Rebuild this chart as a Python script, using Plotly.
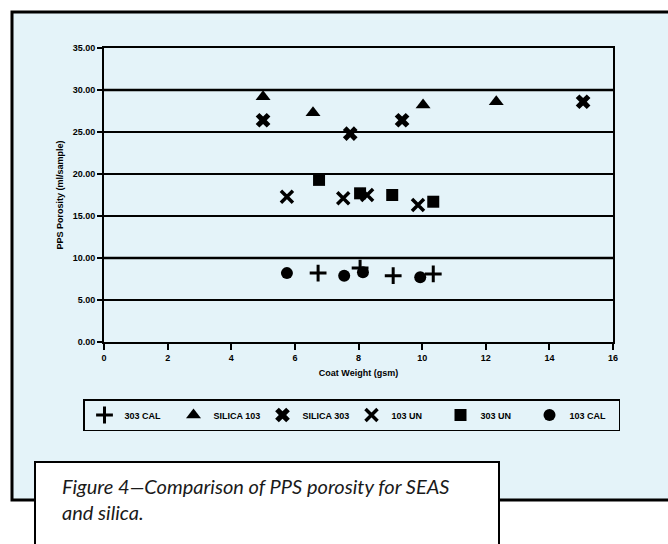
import plotly.graph_objects as go

# ---- data ----
cal303_x = [6.73, 8.05, 9.09, 10.35]
cal303_y = [8.2, 8.8, 7.9, 8.1]

silica103_x = [5.0, 6.57, 10.03, 12.33]
silica103_y = [29.2, 27.3, 28.2, 28.6]

silica303_x = [5.0, 7.74, 9.37, 15.06]
silica303_y = [26.4, 24.8, 26.4, 28.6]

un103_x = [5.75, 7.52, 8.27, 9.87]
un103_y = [17.3, 17.1, 17.5, 16.3]

un303_x = [6.76, 8.05, 9.06, 10.35]
un303_y = [19.3, 17.7, 17.5, 16.7]

cal103_x = [5.75, 7.55, 8.14, 9.94]
cal103_y = [8.2, 7.9, 8.3, 7.7]

series_names = ["303 CAL", "SILICA 103", "SILICA 303", "103 UN", "303 UN", "103 CAL"]
y_ticks = [0, 5, 10, 15, 20, 25, 30, 35]
x_ticks = [0, 2, 4, 6, 8, 10, 12, 14, 16]

caption = "<i>Figure 4\u2014Comparison of PPS porosity for SEAS<br>and silica.</i>"

# ---- geometry helpers (pixel -> paper) ----
W, H = 668, 544
L, R, T, B = 104, 613, 48, 342
def px(x):
    return (x - L) / (R - L)
def py(y):
    return (B - y) / (B - T)

BG = "#e4f3f9"
fig = go.Figure()

styles = [
    dict(symbol="cross-thin", size=12, line=dict(width=3, color="black"), color="black"),
    dict(symbol="triangle-up", size=13, color="black"),
    dict(symbol="x", size=13, color="black"),
    dict(symbol="x-thin", size=12, line=dict(width=3.5, color="black"), color="black"),
    dict(symbol="square", size=12, color="black"),
    dict(symbol="circle", size=12, color="black"),
]
xs = [cal303_x, silica103_x, silica303_x, un103_x, un303_x, cal103_x]
ys = [cal303_y, silica103_y, silica303_y, un103_y, un303_y, cal103_y]
for name, x, y, st in zip(series_names, xs, ys, styles):
    fig.add_trace(go.Scatter(x=x, y=y, mode="markers", name=name, marker=st, cliponaxis=False))

shapes = []
# outer light-blue frame
shapes.append(dict(type="rect", xref="paper", yref="paper", layer="below",
                   x0=px(12), x1=px(700), y0=py(12), y1=py(500),
                   fillcolor=BG, line=dict(color="black", width=3)))
# thick gridlines at 10 and 30
for v in (10, 30):
    shapes.append(dict(type="line", xref="paper", yref="y", x0=0, x1=1, y0=v, y1=v,
                       line=dict(color="black", width=2.5)))
# caption box
shapes.append(dict(type="rect", xref="paper", yref="paper", layer="above",
                   x0=px(35), x1=px(499), y0=py(462), y1=py(560),
                   fillcolor="white", line=dict(color="black", width=2)))

fig.update_layout(
    width=W, height=H,
    margin=dict(l=L, r=W - R, t=T, b=H - B, pad=0, autoexpand=False),
    paper_bgcolor="white",
    plot_bgcolor="rgba(0,0,0,0)",
    showlegend=True,
    legend=dict(orientation="h", x=px(83), y=py(399), xanchor="left", yanchor="top",
                bgcolor=BG, bordercolor="black", borderwidth=1.5,
                font=dict(family="Liberation Sans", size=9, color="black", weight="bold"),
                entrywidth=44, itemwidth=30, tracegroupgap=0),
    shapes=shapes,
    font=dict(family="Liberation Sans", color="black"),
)
fig.update_xaxes(range=[0, 16], tickvals=x_ticks, ticktext=[str(v) for v in x_ticks],
                 showgrid=False, zeroline=False, showline=True, linewidth=2, linecolor="black",
                 mirror=True, ticks="outside", ticklen=6, tickwidth=2, tickcolor="black",
                 tickfont=dict(size=9, weight="bold"),
                 title=dict(text="Coat Weight (gsm)", font=dict(size=9, weight="bold"), standoff=8))
fig.update_yaxes(range=[0, 35], tickvals=y_ticks, ticktext=["%.2f" % v for v in y_ticks],
                 showgrid=True, gridcolor="black", gridwidth=1.5, zeroline=False,
                 showline=True, linewidth=2, linecolor="black", mirror=True,
                 ticks="outside", ticklen=5, tickwidth=2, tickcolor="black",
                 tickfont=dict(size=9, weight="bold"),
                 title=dict(text="PPS Porosity (ml/sample)", font=dict(size=9, weight="bold"), standoff=8))

fig.add_annotation(xref="paper", yref="paper", x=px(60), y=py(472), xanchor="left", yanchor="top",
                   text=caption, showarrow=False, align="left",
                   font=dict(family="Lato", size=20, color="#1a1a1a"))

fig.write_html("out.html", config={"displayModeBar": False},
               post_script="document.body.style.margin='0';document.body.style.overflow='hidden';")
